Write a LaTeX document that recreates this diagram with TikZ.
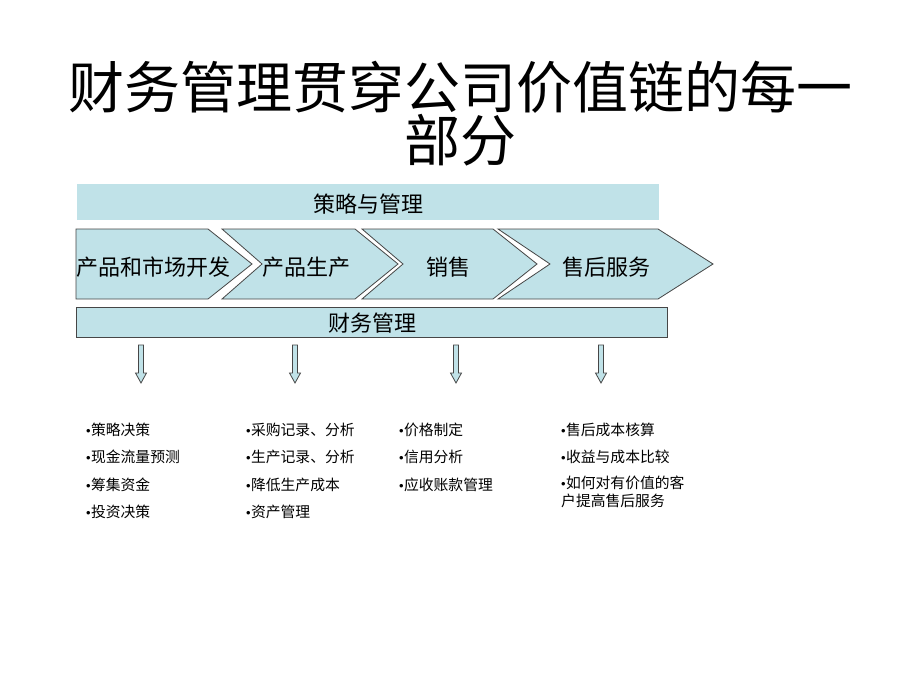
\documentclass[tikz,border=0pt]{standalone}
\usepackage{fontspec}
\setmainfont{Noto Sans CJK SC}
\newfontfamily\cjk{Noto Sans CJK SC}
\newfontfamily\lat{Liberation Sans}
\newcommand{\bul}{{\lat\fontsize{13}{18}\selectfont •}\hspace{0.3pt}}
\definecolor{barfill}{RGB}{192,226,232}
\definecolor{edge}{RGB}{70,70,70}
\begin{document}
\begin{tikzpicture}[x=1pt,y=-1pt,
  bar/.style={fill=barfill,draw=none},
  chev/.style={fill=barfill,draw=edge,line width=0.8pt,line join=miter},
  lbl/.style={font=\fontsize{22}{24}\selectfont\cjk,inner sep=0pt},
  item/.style={font=\fontsize{14.8}{18}\selectfont\cjk,inner sep=0pt,anchor=west,align=left},
  darr/.style={fill=barfill,draw=edge,line width=0.8pt}]
\useasboundingbox (0,0) rectangle (920,690);
\fill[white] (0,0) rectangle (920,690);
% title
\node[font=\fontsize{56}{52}\selectfont\cjk,inner sep=0pt,align=center] (title) at (460,114)
  {财务管理贯穿公司价值链的每一\\部分};
% top bar
\path[bar] (77,184) rectangle (659,220);
\node[lbl] (strat) at (368,204) {策略与管理};
% chevrons
\draw[chev] (76,229) -- (208,229) -- (252,264) -- (208,299) -- (76,299) -- cycle;
\draw[chev] (222,229) -- (355,229) -- (398,264) -- (355,299) -- (222,299) -- (262,264) -- cycle;
\draw[chev] (362,229) -- (493,229) -- (537,264) -- (493,299) -- (362,299) -- (403,264) -- cycle;
\draw[chev] (498,229) -- (658,229) -- (713,264) -- (658,299) -- (498,299) -- (550,264) -- cycle;
\node[lbl] (c1) at (153.5,267) {产品和市场开发};
\node[lbl] (c2) at (306,267) {产品生产};
\node[lbl] (c3) at (448,267) {销售};
\node[lbl] (c4) at (606,267) {售后服务};
% bottom bar
\draw[fill=barfill,draw=edge,line width=0.9pt] (76,307) rectangle (667,337);
\node[lbl] (fin) at (372,323) {财务管理};
% arrows
\foreach \ax in {141,295,456,601}{
  \draw[darr] (\ax-2.5,345) -- (\ax+2.5,345) -- (\ax+2.5,373) -- (\ax+5.5,373)
     -- (\ax,383) -- (\ax-5.5,373) -- (\ax-2.5,373) -- cycle;
}
% lists
\node[item] (l11) at (86,430) {\bul 策略决策};
\node[item] (l12) at (86,457) {\bul 现金流量预测};
\node[item] (l13) at (86,485) {\bul 筹集资金};
\node[item] (l14) at (86,512) {\bul 投资决策};
\node[item] (l21) at (246,430) {\bul 采购记录、分析};
\node[item] (l22) at (246,457) {\bul 生产记录、分析};
\node[item] (l23) at (246,485) {\bul 降低生产成本};
\node[item] (l24) at (246,512) {\bul 资产管理};
\node[item] (l31) at (399,430) {\bul 价格制定};
\node[item] (l32) at (399,457) {\bul 信用分析};
\node[item] (l33) at (399,485) {\bul 应收账款管理};
\node[item] (l41) at (561,430) {\bul 售后成本核算};
\node[item] (l42) at (561,457) {\bul 收益与成本比较};
\node[item,anchor=north west] (l43) at (561,476) {\bul 如何对有价值的客\\户提高售后服务};
\end{tikzpicture}
\end{document}
